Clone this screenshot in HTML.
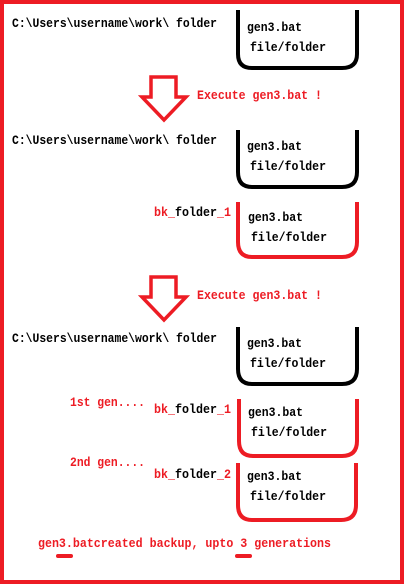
<!DOCTYPE html>
<html><head><meta charset="utf-8"><style>
html,body{margin:0;padding:0;background:#fff;}
svg{display:block;}
text{font-family:"Liberation Mono",monospace;font-weight:bold;font-size:12.5px;}
.k{fill:#000}.r{fill:#ed1c24}
</style></head><body>
<svg width="405" height="586" viewBox="0 0 405 586" xmlns="http://www.w3.org/2000/svg">
<rect x="2" y="2" width="400" height="580" fill="none" stroke="#ed1c24" stroke-width="4"/>
<text class="k" x="12" y="27" textLength="205" lengthAdjust="spacingAndGlyphs">C:\Users\username\work\ folder</text>
<path d="M238 10 V54 Q238 68 252 68 H342 Q357 68 357 54 V10" fill="none" stroke="#000" stroke-width="4"/>
<text class="k" x="247" y="31" textLength="55" lengthAdjust="spacingAndGlyphs">gen3.bat</text>
<text class="k" x="250" y="51" textLength="76" lengthAdjust="spacingAndGlyphs">file/folder</text>
<path d="M151 77 H176 V97 H186 L164 120 L142 97 H151 Z" fill="none" stroke="#ed1c24" stroke-width="3.5" stroke-linejoin="miter"/>
<text class="r" x="197" y="99" textLength="125" lengthAdjust="spacingAndGlyphs">Execute gen3.bat !</text>
<text class="k" x="12" y="144" textLength="205" lengthAdjust="spacingAndGlyphs">C:\Users\username\work\ folder</text>
<path d="M238 130 V172 Q238 187 252 187 H342 Q357 187 357 172 V130" fill="none" stroke="#000" stroke-width="4"/>
<text class="k" x="247" y="150" textLength="55" lengthAdjust="spacingAndGlyphs">gen3.bat</text>
<text class="k" x="250" y="170" textLength="76" lengthAdjust="spacingAndGlyphs">file/folder</text>
<text x="154" y="216" textLength="77" lengthAdjust="spacingAndGlyphs"><tspan class="r">bk_</tspan><tspan class="k">folder</tspan><tspan class="r">_1</tspan></text>
<path d="M238 202 V242 Q238 257 252 257 H342 Q357 257 357 242 V202" fill="none" stroke="#ed1c24" stroke-width="4"/>
<text class="k" x="248" y="221" textLength="55" lengthAdjust="spacingAndGlyphs">gen3.bat</text>
<text class="k" x="251" y="241" textLength="76" lengthAdjust="spacingAndGlyphs">file/folder</text>
<path d="M151 277 H176 V297 H186 L164 320 L142 297 H151 Z" fill="none" stroke="#ed1c24" stroke-width="3.5" stroke-linejoin="miter"/>
<text class="r" x="197" y="299" textLength="125" lengthAdjust="spacingAndGlyphs">Execute gen3.bat !</text>
<text class="k" x="12" y="342" textLength="205" lengthAdjust="spacingAndGlyphs">C:\Users\username\work\ folder</text>
<path d="M238 327 V369 Q238 384 252 384 H342 Q357 384 357 369 V327" fill="none" stroke="#000" stroke-width="4"/>
<text class="k" x="247" y="347" textLength="55" lengthAdjust="spacingAndGlyphs">gen3.bat</text>
<text class="k" x="250" y="367" textLength="76" lengthAdjust="spacingAndGlyphs">file/folder</text>
<text class="r" x="70" y="406" textLength="75" lengthAdjust="spacingAndGlyphs">1st gen....</text>
<text x="154" y="413" textLength="77" lengthAdjust="spacingAndGlyphs"><tspan class="r">bk_</tspan><tspan class="k">folder</tspan><tspan class="r">_1</tspan></text>
<path d="M239 399 V441 Q239 456 253 456 H342 Q357 456 357 441 V399" fill="none" stroke="#ed1c24" stroke-width="4"/>
<text class="k" x="248" y="416" textLength="55" lengthAdjust="spacingAndGlyphs">gen3.bat</text>
<text class="k" x="251" y="436" textLength="76" lengthAdjust="spacingAndGlyphs">file/folder</text>
<text class="r" x="70" y="466" textLength="75" lengthAdjust="spacingAndGlyphs">2nd gen....</text>
<text x="154" y="478" textLength="77" lengthAdjust="spacingAndGlyphs"><tspan class="r">bk_</tspan><tspan class="k">folder</tspan><tspan class="r">_2</tspan></text>
<path d="M238 463 V505 Q238 520 252 520 H341 Q356 520 356 505 V463" fill="none" stroke="#ed1c24" stroke-width="4"/>
<text class="k" x="247" y="480" textLength="55" lengthAdjust="spacingAndGlyphs">gen3.bat</text>
<text class="k" x="250" y="500" textLength="76" lengthAdjust="spacingAndGlyphs">file/folder</text>
<text class="r" x="38" y="547" textLength="293" lengthAdjust="spacingAndGlyphs">gen3.batcreated backup, upto 3 generations</text>
<line x1="58" y1="556" x2="71" y2="556" stroke="#ed1c24" stroke-width="4" stroke-linecap="round"/>
<line x1="237" y1="556" x2="250" y2="556" stroke="#ed1c24" stroke-width="4" stroke-linecap="round"/>
</svg>
</body></html>
